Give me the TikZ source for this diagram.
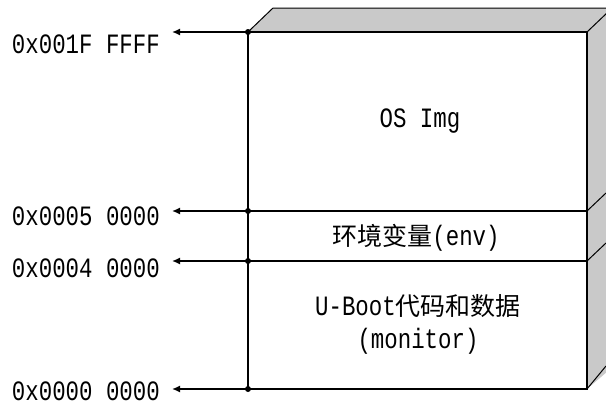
\documentclass[tikz,border=0pt]{standalone}
\usepackage{fontspec}
\setmonofont[FakeStretch=0.8]{Liberation Mono}
\newfontfamily\cjk{Noto Sans CJK SC}
\usetikzlibrary{arrows.meta}
\begin{document}
\begin{tikzpicture}[x=1pt,y=-1pt,
  addr/.style={anchor=east,inner sep=0pt,font=\ttfamily\fontsize{28}{30}\selectfont},
  boxtext/.style={inner sep=0pt,font=\ttfamily\fontsize{28}{30}\selectfont},
  ptr/.style={line width=1.5pt,-{Latex[length=8pt,width=7pt]}},
  junction/.style={circle,fill=black,inner sep=0pt,minimum size=6pt}]
\useasboundingbox (0,0) rectangle (606,407);
\begin{scope}
\clip (0,0) rectangle (606,407);
% 3D faces
\fill[gray!42] (248,32) -- (273,8) -- (615,8) -- (615,365) -- (587,389) -- (587,32) -- cycle;
\draw[line width=1pt] (248,32) -- (273,8) -- (615,8);
\draw[line width=1pt] (587,32) -- (608,12);
\draw[line width=1pt] (587,211) -- (606,193);
\draw[line width=1pt] (587,261) -- (606,243);
\draw[line width=1pt] (587,389) -- (606,366);
\end{scope}
% front box
\coordinate (tl) at (248,32);
\coordinate (tr) at (587,32);
\coordinate (bl) at (248,389);
\coordinate (br) at (587,389);
\coordinate (m1l) at (248,211);
\coordinate (m1r) at (587,211);
\coordinate (m2l) at (248,261);
\coordinate (m2r) at (587,261);
\fill[white] (tl) rectangle (br);
\draw[line width=1.5pt] (tl) -- (tr) -- (br) -- (bl) -- cycle;
\draw[line width=1.5pt] (m1l) -- (m1r);
\draw[line width=1.5pt] (m2l) -- (m2r);
% texts
\node[boxtext] (os) at (420,121) {OS Img};
\node[boxtext] (env) at (416,238) {{\cjk\fontsize{25}{27}\selectfont 环境变量}(env)};
\node[boxtext] (ub) at (418,306) {U-Boot{\cjk\fontsize{25}{27}\selectfont 代码和数据}};
\node[boxtext] (mon) at (418,341) {(monitor)};
% junctions
\node[junction] (j1) at (tl) {};
\node[junction] (j2) at (m1l) {};
\node[junction] (j3) at (m2l) {};
\node[junction] (j4) at (bl) {};
% arrow ends
\coordinate (e1) at (172,32);
\coordinate (e2) at (172,211);
\coordinate (e3) at (172,261);
\coordinate (e4) at (172,389);
\draw[ptr] (j1.center) -- (e1);
\draw[ptr] (j2.center) -- (e2);
\draw[ptr] (j3.center) -- (e3);
\draw[ptr] (j4.center) -- (e4);
% labels
\node[addr] (l1) at (160,44) {0x001F FFFF};
\node[addr] (l2) at (160,216) {0x0005 0000};
\node[addr] (l3) at (160,268) {0x0004 0000};
\node[addr] (l4) at (160,391) {0x0000 0000};
\end{tikzpicture}
\end{document}
